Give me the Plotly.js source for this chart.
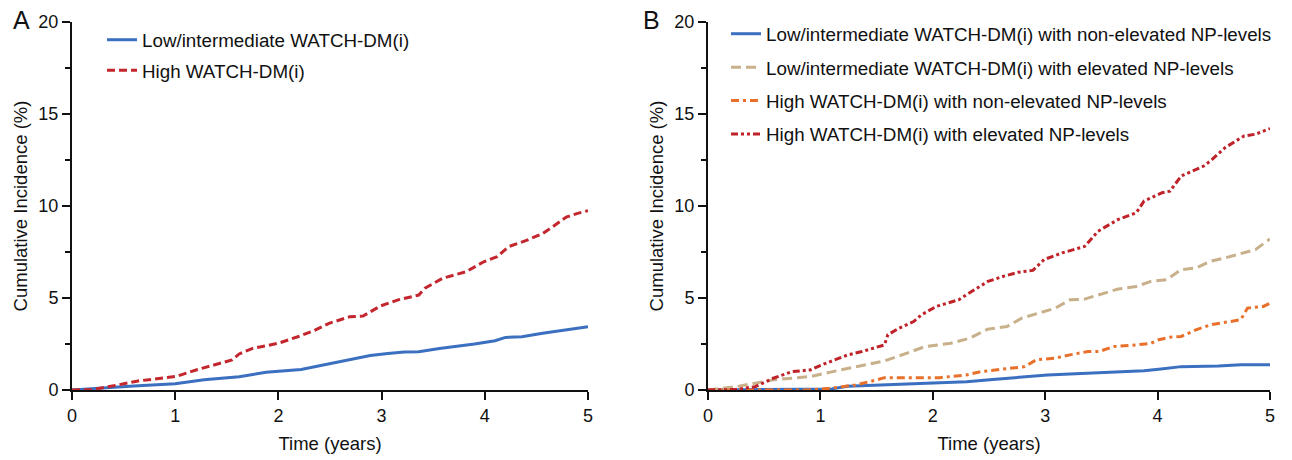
<!DOCTYPE html>
<html>
<head>
<meta charset="utf-8">
<script src="https://cdn.plot.ly/plotly-3.0.1.min.js"></script>
<style>html,body{margin:0;padding:0;background:#fff;}#chart{width:1292px;height:460px;}</style>
</head>
<body>
<div id="chart"></div>
<script>
// Panel A
const aLowT = [0, 0.3, 0.6, 1.0, 1.28, 1.62, 1.88, 2.22, 2.49, 2.69, 2.89, 3.06, 3.22, 3.36, 3.56, 3.9, 4.1, 4.2, 4.36, 4.56, 4.76, 5.0];
const aLowY = [0, 0.12, 0.22, 0.34, 0.56, 0.72, 0.96, 1.12, 1.42, 1.62, 1.88, 1.98, 2.07, 2.08, 2.26, 2.5, 2.68, 2.86, 2.9, 3.08, 3.26, 3.44];
const aHighT = [0, 0.2, 0.44, 0.64, 1.01, 1.21, 1.55, 1.62, 1.75, 2.0, 2.18, 2.35, 2.49, 2.69, 2.82, 2.99, 3.16, 3.36, 3.42, 3.59, 3.82, 3.99, 4.12, 4.23, 4.39, 4.56, 4.66, 4.79, 4.9, 5.0];
const aHighY = [0, 0.02, 0.27, 0.49, 0.74, 1.1, 1.63, 1.96, 2.26, 2.54, 2.88, 3.24, 3.62, 3.98, 4.02, 4.57, 4.9, 5.16, 5.53, 6.07, 6.43, 6.97, 7.25, 7.79, 8.1, 8.5, 8.88, 9.4, 9.6, 9.75];

// Panel B
const bLowNonT = [0, 0.5, 1.1, 1.24, 1.57, 2.06, 2.3, 2.56, 2.79, 3.02, 3.22, 3.48, 3.88, 4.01, 4.21, 4.54, 4.74, 5.0];
const bLowNonY = [0, 0.04, 0.06, 0.2, 0.27, 0.36, 0.45, 0.58, 0.69, 0.82, 0.87, 0.94, 1.05, 1.13, 1.27, 1.31, 1.37, 1.37];
const bLowElT = [0, 0.25, 0.58, 0.91, 1.11, 1.31, 1.57, 1.77, 1.93, 2.16, 2.33, 2.49, 2.66, 2.79, 2.99, 3.09, 3.22, 3.35, 3.48, 3.65, 3.81, 3.94, 4.08, 4.21, 4.34, 4.47, 4.6, 4.8, 4.87, 5.0];
const bLowElY = [0, 0.18, 0.55, 0.73, 1.0, 1.27, 1.58, 2.0, 2.36, 2.54, 2.82, 3.31, 3.45, 3.9, 4.27, 4.45, 4.9, 4.94, 5.18, 5.49, 5.63, 5.9, 6.0, 6.54, 6.63, 7.0, 7.18, 7.54, 7.63, 8.21];
const bHighNonT = [0, 0.9, 1.08, 1.31, 1.5, 1.57, 2.06, 2.3, 2.43, 2.72, 2.82, 2.92, 3.09, 3.22, 3.38, 3.48, 3.61, 3.81, 3.94, 4.01, 4.11, 4.21, 4.34, 4.47, 4.6, 4.74, 4.8, 4.94, 5.0];
const bHighNonY = [0, 0, 0.09, 0.27, 0.55, 0.67, 0.67, 0.82, 1.0, 1.18, 1.27, 1.64, 1.73, 1.91, 2.09, 2.09, 2.36, 2.45, 2.54, 2.73, 2.87, 2.91, 3.27, 3.54, 3.67, 3.82, 4.45, 4.54, 4.72];
const bHighElT = [0, 0.25, 0.42, 0.58, 0.75, 0.91, 1.01, 1.24, 1.37, 1.57, 1.6, 1.7, 1.83, 1.9, 2.03, 2.23, 2.3, 2.49, 2.63, 2.76, 2.89, 2.99, 3.15, 3.35, 3.47, 3.65, 3.81, 3.88, 4.04, 4.11, 4.21, 4.41, 4.47, 4.6, 4.77, 4.87, 5.0];
const bHighElY = [0, 0.03, 0.18, 0.64, 1.0, 1.09, 1.36, 1.9, 2.09, 2.45, 3.0, 3.36, 3.72, 4.09, 4.54, 4.9, 5.18, 5.9, 6.18, 6.4, 6.5, 7.09, 7.45, 7.8, 8.63, 9.27, 9.63, 10.27, 10.72, 10.81, 11.63, 12.17, 12.45, 13.17, 13.81, 13.9, 14.21];

const xTicks = [0, 1, 2, 3, 4, 5];
const yTicks = [0, 5, 10, 15, 20];

const FONT = 'Liberation Sans, Arial, sans-serif';
const W = 1292, H = 460;

function tr(x, y, name, color, dash, xa, ya, leg, grp) {
  return {x: x, y: y, name: name, type: 'scatter', mode: 'lines',
    line: {color: color, width: 3, dash: dash},
    xaxis: xa, yaxis: ya, legend: leg, legendgroup: grp, hoverinfo: 'skip'};
}

const data = [
  tr(aLowT, aLowY, 'Low/intermediate WATCH-DM(i)', '#3b6fc0', 'solid', 'x', 'y', 'legend', 'a1'),
  tr(aHighT, aHighY, 'High WATCH-DM(i)', '#c4262e', '8px,4px', 'x', 'y', 'legend', 'a2'),
  tr(bLowNonT, bLowNonY, 'Low/intermediate WATCH-DM(i) with non-elevated NP-levels', '#3b6fc0', 'solid', 'x2', 'y2', 'legend2', 'b1'),
  tr(bLowElT, bLowElY, 'Low/intermediate WATCH-DM(i) with elevated NP-levels', '#c8b08a', '10px,5px', 'x2', 'y2', 'legend2', 'b2'),
  tr(bHighNonT, bHighNonY, 'High WATCH-DM(i) with non-elevated NP-levels', '#e8702a', '8px,4px,3px,4px', 'x2', 'y2', 'legend2', 'b3'),
  tr(bHighElT, bHighElY, 'High WATCH-DM(i) with elevated NP-levels', '#bf2228', '7px,3px,3px,3px,3px,3px', 'x2', 'y2', 'legend2', 'b4')
];

function xax(d0, d1, anchor) {
  return {domain: [d0 / W, d1 / W], anchor: anchor, range: [0, 5], tickvals: xTicks, ticktext: xTicks.map(String),
    showgrid: false, zeroline: false, showline: true, linecolor: '#111', linewidth: 2,
    ticks: 'outside', ticklen: 8, tickwidth: 2, tickcolor: '#111',
    tickfont: {family: FONT, size: 18, color: '#111'},
    title: {text: 'Time (years)', font: {family: FONT, size: 18.5, color: '#111'}, standoff: 12},
    fixedrange: true};
}
function yax(anchor) {
  return {domain: [1 - 390 / H, 1 - 22 / H], anchor: anchor, range: [0, 20], tickvals: yTicks, ticktext: yTicks.map(String),
    showgrid: false, zeroline: false, showline: true, linecolor: '#111', linewidth: 2,
    ticks: 'outside', ticklen: 8, tickwidth: 2, tickcolor: '#111',
    minor: {dtick: 2.5, tick0: 0, ticks: 'outside', ticklen: 5, tickwidth: 2, tickcolor: '#111', showgrid: false},
    tickfont: {family: FONT, size: 18, color: '#111'},
    title: {text: 'Cumulative Incidence (%)', font: {family: FONT, size: 18.5, color: '#111'}, standoff: 6},
    fixedrange: true};
}

const layout = {
  width: W, height: H,
  margin: {l: 0, r: 0, t: 0, b: 0, autoexpand: false},
  paper_bgcolor: '#fff', plot_bgcolor: '#fff',
  showlegend: true,
  xaxis: xax(72, 588, 'y'),
  yaxis: yax('x'),
  xaxis2: xax(708, 1270, 'y2'),
  yaxis2: yax('x2'),
  legend: {x: 102 / W, y: 1 - 21 / H, xanchor: 'left', yanchor: 'top', bgcolor: 'rgba(0,0,0,0)',
    font: {family: FONT, size: 18.8, color: '#111'}, traceorder: 'grouped', tracegroupgap: 3},
  legend2: {x: 726 / W, y: 1 - 15 / H, xanchor: 'left', yanchor: 'top', bgcolor: 'rgba(0,0,0,0)',
    font: {family: FONT, size: 18.8, color: '#111'}, traceorder: 'grouped', tracegroupgap: 6},
  annotations: [
    {text: 'A', x: 11 / W, y: 1 - 20 / H, xref: 'paper', yref: 'paper', xanchor: 'left', yanchor: 'middle', showarrow: false,
      font: {family: FONT, size: 25, color: '#111'}},
    {text: 'B', x: 641 / W, y: 1 - 20 / H, xref: 'paper', yref: 'paper', xanchor: 'left', yanchor: 'middle', showarrow: false,
      font: {family: FONT, size: 25, color: '#111'}}
  ]
};

Plotly.newPlot('chart', data, layout, {staticPlot: true, displayModeBar: false});
</script>
</body>
</html>
